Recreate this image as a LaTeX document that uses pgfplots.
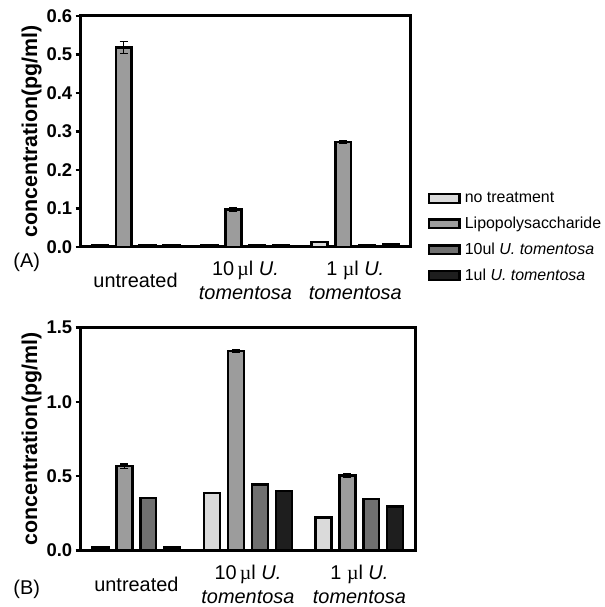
\documentclass[border=0pt]{standalone}
\usepackage{pgfplots}
\pgfplotsset{compat=1.18}
\usepackage{fontspec}
\setmainfont{Liberation Sans}
\newfontfamily\serifmu{Liberation Serif}
\definecolor{cNT}{HTML}{DADADA}
\definecolor{cLPS}{HTML}{9C9C9C}
\definecolor{cTen}{HTML}{707070}
\definecolor{cOne}{HTML}{1E1E1E}
\newcommand\legbox[1]{\addlegendimage{legend image code/.code={\draw[fill=#1,draw=black,line width=2.5pt] (0pt,-4.5pt) rectangle (31pt,4.5pt);}}}
\pgfplotsset{
  panel/.style={
    scale only axis,
    xmin=-0.5, xmax=2.5, ymin=0,
    ybar, bar width=16pt,
    axis line style={line width=3pt},
    tick align=outside,
    major tick length=5pt,
    ytick pos=left,
    ytick style={line width=2.5pt, black},
    xtick style={draw=none},
    xtick={0,1,2},
    xticklabels={untreated,{10\,{\serifmu µ}l \textit{U.}\\\textit{tomentosa}},{1 {\serifmu µ}l \textit{U.}\\\textit{tomentosa}}},
    xticklabel style={align=center, anchor=center, yshift=-29pt, font=\fontsize{20}{24}\selectfont},
    yticklabel style={font=\fontsize{18.5}{20}\selectfont\bfseries},
    /pgf/number format/assume math mode=true,
    /pgf/number format/fixed, /pgf/number format/fixed zerofill, /pgf/number format/precision=1,
    ylabel={concentration(pg/ml)},
    ylabel style={font=\fontsize{21.5}{24}\selectfont\bfseries, yshift=-2pt},
    every axis plot/.append style={draw=black, line width=2.3pt},
    clip=false,
  },
  lps/.style={fill=cLPS, bar shift=-12pt,
    error bars/.cd, y dir=both, y explicit,
    error bar style={line width=1.5pt, black},
    error mark options={rotate=90, mark size=4pt, line width=1.5pt, black}},
}
\begin{document}
\begin{tikzpicture}
\path (0,0) rectangle (607pt,-604pt);
% Panel A
\begin{axis}[panel,
  at={(81pt,-248pt)}, anchor=south west,
  width=331pt, height=232pt,
  ymax=0.6, ytick={0,0.1,0.2,0.3,0.4,0.5,0.6},
  legend style={at={(1.052,0.245)}, anchor=north west, draw=none, fill=none, inner sep=0pt,
    nodes={inner sep=2pt},
    font=\fontsize{16}{19}\selectfont, /tikz/row sep=9pt, /tikz/column sep=2pt, legend cell align=left},
]
\addplot[fill=cNT, bar shift=-36pt, forget plot] coordinates {(0,0.004) (1,0.004) (2,0.012)};
\addplot[forget plot, lps] coordinates {(0,0.518) +- (0,0.015) (1,0.097) +- (0,0.004) (2,0.272) +- (0,0.004)};
\addplot[fill=cTen, bar shift=12pt, forget plot] coordinates {(0,0.004) (1,0.004) (2,0.005)};
\addplot[fill=cOne, bar shift=36pt, forget plot] coordinates {(0,0.004) (1,0.004) (2,0.006)};
\legbox{cNT}\addlegendentry{no treatment}
\legbox{cLPS}\addlegendentry{Lipopolysaccharide}
\legbox{cTen}\addlegendentry{10ul \textit{U. tomentosa}}
\legbox{cOne}\addlegendentry{1ul \textit{U. tomentosa}}
\end{axis}
% Panel B
\begin{axis}[panel,
  at={(81pt,-553pt)}, anchor=south west,
  width=336pt, height=224pt,
  ymax=1.5, ytick={0,0.5,1.0,1.5},
]
\addplot[fill=cNT, bar shift=-36pt] coordinates {(0,0.02) (1,0.388) (2,0.222)};
\addplot[lps] coordinates {(0,0.567) +- (0,0.015) (1,1.343) +- (0,0.01) (2,0.504) +- (0,0.01)};
\addplot[fill=cTen, bar shift=12pt] coordinates {(0,0.355) (1,0.445) (2,0.345)};
\addplot[fill=cOne, bar shift=36pt] coordinates {(0,0.02) (1,0.40) (2,0.296)};
\end{axis}
\node[anchor=west, font=\fontsize{20}{24}\selectfont] at (10pt,-264pt) {(A)};
\node[anchor=west, font=\fontsize{20}{24}\selectfont] at (10pt,-592pt) {(B)};
\end{tikzpicture}
\end{document}
